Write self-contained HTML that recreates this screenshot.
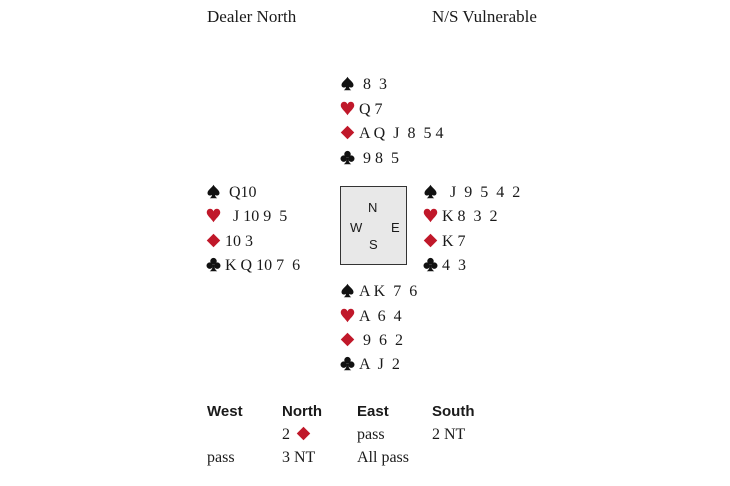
<!DOCTYPE html>
<html><head><meta charset="utf-8"><style>
body{margin:0;width:730px;height:486px;background:#fff;position:relative;overflow:hidden;font-family:"Liberation Serif",serif;color:#1a1a1a}
.t{position:absolute;font-size:16px;line-height:18px;white-space:pre}
.t svg{width:15px;height:15px;vertical-align:-2px;margin-right:4px}
.h{position:absolute;font-family:"Liberation Sans",sans-serif;font-weight:bold;font-size:15px;line-height:18px}
#box{position:absolute;left:340px;top:186px;width:65px;height:77px;border:1.5px solid #333;background:#e8e8e8;font-family:"Liberation Sans",sans-serif;font-size:13px}
#box span{position:absolute}
</style></head><body>
<svg width="0" height="0" style="position:absolute">
<defs>
<symbol id="sp" viewBox="0 0 20 20"><path d="M10 1C8 5 2 8 2 12c0 3 3 4.5 6 2.5C7.5 17 6.5 18 5 19h10c-1.5-1-2.5-2-3-4.5 3 2 6 .5 6-2.5 0-4-6-7-8-11z" fill="#111"/></symbol>
<symbol id="he" viewBox="0 0 20 20"><path d="M10 19C7 14 1 10 1 6c0-3 2-5 4.5-5C8 1 9.5 3 10 4.5 10.5 3 12 1 14.5 1 17 1 19 3 19 6c0 4-6 8-9 13z" fill="#c0182a"/></symbol>
<symbol id="di" viewBox="0 0 20 20"><path d="M10 1L19 10 10 19 1 10z" fill="#c0182a"/></symbol>
<symbol id="cl" viewBox="0 0 20 20"><g fill="#111"><circle cx="10" cy="5.5" r="4.3"/><circle cx="5" cy="11.5" r="4.3"/><circle cx="15" cy="11.5" r="4.3"/><path d="M9 10h2c0 4 1 7 4 9H5c3-2 4-5 4-9z"/></g></symbol>
</defs></svg>
<div class="t" style="left:207px;top:8px;font-size:17px">Dealer North</div>
<div class="t" style="left:432px;top:8px;font-size:17px">N/S Vulnerable</div>

<div class="t" style="left:340px;top:76px"><svg><use href="#sp"/></svg> 8  3</div>
<div class="t" style="left:340px;top:101px"><svg><use href="#he"/></svg>Q 7</div>
<div class="t" style="left:340px;top:125px"><svg><use href="#di"/></svg>A Q  J  8  5 4</div>
<div class="t" style="left:340px;top:150px"><svg><use href="#cl"/></svg> 9 8  5</div>

<div class="t" style="left:206px;top:184px"><svg><use href="#sp"/></svg> Q10</div>
<div class="t" style="left:206px;top:208px"><svg><use href="#he"/></svg>  J 10 9  5</div>
<div class="t" style="left:206px;top:233px"><svg><use href="#di"/></svg>10 3</div>
<div class="t" style="left:206px;top:257px"><svg><use href="#cl"/></svg>K Q 10 7  6</div>

<div id="box"><span style="left:27px;top:13px">N</span><span style="left:9px;top:33px">W</span><span style="left:50px;top:33px">E</span><span style="left:28px;top:50px">S</span></div>

<div class="t" style="left:423px;top:184px"><svg><use href="#sp"/></svg>  J  9  5  4  2</div>
<div class="t" style="left:423px;top:208px"><svg><use href="#he"/></svg>K 8  3  2</div>
<div class="t" style="left:423px;top:233px"><svg><use href="#di"/></svg>K 7</div>
<div class="t" style="left:423px;top:257px"><svg><use href="#cl"/></svg>4  3</div>

<div class="t" style="left:340px;top:283px"><svg><use href="#sp"/></svg>A K  7  6</div>
<div class="t" style="left:340px;top:308px"><svg><use href="#he"/></svg>A  6  4</div>
<div class="t" style="left:340px;top:332px"><svg><use href="#di"/></svg> 9  6  2</div>
<div class="t" style="left:340px;top:356px"><svg><use href="#cl"/></svg>A  J  2</div>

<div class="h" style="left:207px;top:403px">West</div>
<div class="h" style="left:282px;top:403px">North</div>
<div class="h" style="left:357px;top:403px">East</div>
<div class="h" style="left:432px;top:403px">South</div>
<div class="t" style="left:282px;top:426px">2 <svg style="margin-left:2px"><use href="#di"/></svg></div>
<div class="t" style="left:357px;top:426px">pass</div>
<div class="t" style="left:432px;top:426px">2 NT</div>
<div class="t" style="left:207px;top:449px">pass</div>
<div class="t" style="left:282px;top:449px">3 NT</div>
<div class="t" style="left:357px;top:449px">All pass</div>
</body></html>
